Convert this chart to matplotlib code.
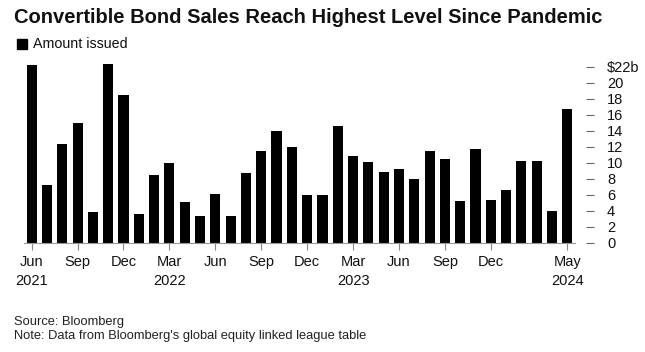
import matplotlib
matplotlib.use("Agg")
import matplotlib.pyplot as plt
import numpy as np

plt.rcParams['font.family'] = ['Liberation Sans', 'DejaVu Sans']

months = ["Jun 2021", "Jul 2021", "Aug 2021", "Sep 2021", "Oct 2021", "Nov 2021", "Dec 2021",
          "Jan 2022", "Feb 2022", "Mar 2022", "Apr 2022", "May 2022", "Jun 2022", "Jul 2022",
          "Aug 2022", "Sep 2022", "Oct 2022", "Nov 2022", "Dec 2022",
          "Jan 2023", "Feb 2023", "Mar 2023", "Apr 2023", "May 2023", "Jun 2023", "Jul 2023",
          "Aug 2023", "Sep 2023", "Oct 2023", "Nov 2023", "Dec 2023",
          "Jan 2024", "Feb 2024", "Mar 2024", "Apr 2024", "May 2024"]
amount = [22.2, 7.2, 12.4, 15.0, 3.8, 22.4, 18.5,
          3.6, 8.5, 10.0, 5.1, 3.4, 6.1, 3.3,
          8.7, 11.5, 14.0, 12.0, 6.0,
          6.0, 14.6, 10.9, 10.1, 8.9, 9.2, 8.0,
          11.5, 10.5, 5.25, 11.75, 5.4,
          6.6, 10.2, 10.2, 4.0, 16.7]
tick_months = ["Jun 2021", "Sep 2021", "Dec 2021", "Mar 2022", "Jun 2022", "Sep 2022",
               "Dec 2022", "Mar 2023", "Jun 2023", "Sep 2023", "Dec 2023", "May 2024"]
tick_labels = ["Jun\n2021", "Sep", "Dec", "Mar\n2022", "Jun", "Sep",
               "Dec", "Mar\n2023", "Jun", "Sep", "Dec", "May\n2024"]
y_ticks = [0, 2, 4, 6, 8, 10, 12, 14, 16, 18, 20, 22]
y_labels = ["0", "2", "4", "6", "8", "10", "12", "14", "16", "18", "20", "$22b"]

W, H = 645, 352
fig = plt.figure(figsize=(W / 100, H / 100), dpi=100)
left, right = 24 / W, 575 / W
bottom = 1 - 242.7 / H
top = 1 - 62.7 / H
ax = fig.add_axes([left, bottom, right - left, top - bottom])

x = np.arange(len(months))
ax.bar(x, amount, width=0.66, color="black", zorder=2)
ax.set_xlim(-0.5, len(months) - 0.5)
ax.set_ylim(0, 22.5)

ax.set_xticks([months.index(m) for m in tick_months])
ax.set_xticklabels(tick_labels, fontsize=10.5, linespacing=1.45)
ax.tick_params(axis="x", direction="out", length=5, width=0.8, color="#888888", pad=4,
               labelcolor="#111111")

ax.yaxis.tick_right()
ax.spines["right"].set_position(("outward", 8))
ax.set_yticks(y_ticks)
ax.set_yticklabels(y_labels, fontsize=10.5)
ax.tick_params(axis="y", direction="out", length=6, width=0.8, color="#666666", pad=9,
               labelcolor="#111111")

for s in ["top", "left", "right"]:
    ax.spines[s].set_visible(False)
ax.spines["bottom"].set_color("#999999")
ax.spines["bottom"].set_linewidth(0.8)

fig.text(14 / W, 1 - 17.5 / H, "Convertible Bond Sales Reach Highest Level Since Pandemic",
         fontsize=14.5, fontweight="bold", va="center", ha="left", color="#111111")
fig.patches.append(plt.Rectangle((17 / W, 1 - 49 / H), 10 / W, 10 / H, transform=fig.transFigure,
                                 color="black"))
fig.text(33 / W, 1 - 44.5 / H, "Amount issued", fontsize=10.3, va="center", ha="left", color="#111111")
fig.text(14 / W, 1 - 322 / H, "Source: Bloomberg", fontsize=9.3, va="center", ha="left", color="#222222")
fig.text(14 / W, 1 - 335.5 / H, "Note: Data from Bloomberg's global equity linked league table",
         fontsize=9.3, va="center", ha="left", color="#222222")

fig.savefig("out.png", dpi=100)
